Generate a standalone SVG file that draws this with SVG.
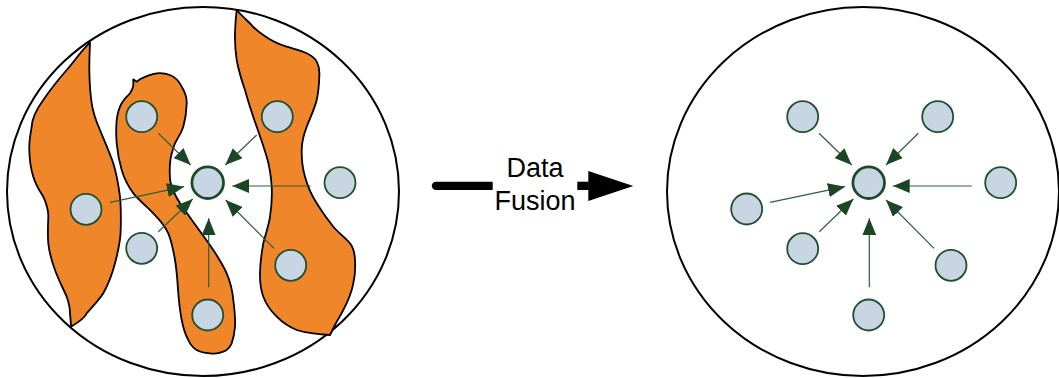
<svg xmlns="http://www.w3.org/2000/svg" width="1059" height="378" viewBox="0 0 1059 378">
<style>
.frame{fill:#ffffff;stroke:#000000;stroke-width:2}
.blob{fill:#f0862a;stroke:#000000;stroke-width:1.8;stroke-linejoin:round}
.node{fill:#c8d5e3;stroke:#22502e;stroke-width:1.8}
.hub{fill:#c8d5e3;stroke:#1e4a2a;stroke-width:2.8}
.edge{stroke:#2f5e3c;stroke-width:1.2;fill:none;marker-end:url(#ah)}
.lbl{font-family:"Liberation Sans",Arial,sans-serif;font-size:27px;fill:#000000;text-anchor:middle}
</style>
<defs>
<marker id="ah" viewBox="0 0 17 14" refX="17" refY="7" markerWidth="17" markerHeight="14" markerUnits="userSpaceOnUse" orient="auto">
<path d="M0,0 L17,7 L0,14 Z" fill="#1a4626"/>
</marker>
</defs>

<g id="before">
<ellipse class="frame" cx="203" cy="191.5" rx="196" ry="184.5"/>
<path id="regionA" class="blob" d="M90,42.7 C80,52 74,62 66.7,70 C58,80 50,90 43.3,100 C36,110 32,118 31.7,126.7 C30,136 29,143 29.3,150 C29.5,160 30.5,168 33.3,176.7 C36,186 40,191 43.3,196.7 C47,205 48.5,210 48.3,216.7 C48,226 47.5,234 48.3,243.3 C49.5,254 52,262 55,270 C58.5,280 63,288 66.7,296.7 C69,303 70,308 70,313.3 C70.5,318 70.8,322 71,326.7 C79,322 85,318 86.7,313.3 C93,306 99,300 103.3,293.3 C109,283 112.5,273 115,263.3 C118,252 120.5,242 120.7,230 C121,218 121,207 120,196.7 C118.5,185 116.5,174 113.3,163.3 C109,151 104,140 100,130 C96,121 93,112 91.7,103.3 C90,92 89.5,81 89.3,70 C89.3,60 89.6,51 90,42.7 Z"/>
<path id="regionB" class="blob" d="M140,79.3 C146,76 151,74 156.7,73.3 C162,72.7 166,73.5 170,75 C175,77 179,81 181.7,86.7 C185,92 187,97 186.7,103.3 C186.5,111 185.5,119 183.3,126.7 C181,134 177.5,138 175,143.3 C172.5,150 170.5,156 170,163.3 C169.5,170 169.5,177 170.7,183.3 C172.5,191 176,197 180,203.3 C185.5,211 191,219 196.7,226.7 C202,234 208,242 213.3,250 C218.5,258 223,265 226.7,273.3 C230,281 232.5,291 233.3,300 C234.5,309 235.5,318 235,326.7 C234.5,333 233.5,338 231.7,343.3 C229.5,348 226.5,350.5 223.3,351.7 C219,353.5 214,354 210,353.3 C205,353 200,352 196.7,350 C192.5,347.5 190,344 188.3,340 C185,334 183,327 181.7,320 C180,311 179,302 178.3,293.3 C177.5,282 176.8,270 175,260 C173.5,251 171.5,241 168.3,233.3 C164.5,225 159,219 153.3,213.3 C146,206 139,200 133.3,193.3 C128,186 124,178 121.7,170 C119,161 117.5,152 116.7,143.3 C116,135 116,127 116.7,120 C117.5,113 119,108 121.7,103.3 C124,99 127,96 130,93.3 C132,90 133.2,88 133.3,85 L133.3,79.3 L136.7,81.7 Z"/>
<path id="regionC" class="blob" d="M236.7,10 C241,15 245.5,19 250,23.3 C254,28 258.5,32 263.3,35 C270,40 278,44 286.7,46.7 C294,49 301,50.5 306.7,53.3 C311.5,55.5 314.8,58 316.7,61.7 C319,66 319.8,71 319.3,76.7 C319,85 318.5,92 316.7,100 C314.5,109 310,118 306.7,126.7 C303.5,135 301.8,142 301.7,150 C301.5,159 302.5,168 305,176.7 C307.5,186 311.5,195 316.7,203.3 C322,212 327.5,219.5 333.3,226.7 C339,233.5 345.5,237.5 350,243.3 C353.5,248 354.8,254 355,260 C355.5,268 355,276 353.3,283.3 C351.5,293 347.5,302 343.3,310 C340.5,315.5 337.5,320 335,325 C333,329 331.5,332 330,335 C324,334.5 319,334 313.3,333.3 C307.5,332.8 302,331.8 296.7,330 C289,327 282.5,322.5 276.7,316.7 C270.5,310.5 266,304 263.3,296.7 C260.5,289 259.8,281 260,273.3 C260.2,263 261.5,253 263.3,243.3 C265.5,234 269,225 270,216.7 C271.5,207 272.2,196 271.7,186.7 C271,176 269.5,166 266.7,156.7 C263.5,146 260,136 256.7,126.7 C252.5,115 248.5,103 245,90 C241.5,80 238.5,70 236.7,60 C235.3,51 234.8,42 235,33.3 C235.2,25 235.8,17 236.7,10 Z"/>
</g>

<g id="after">
<ellipse class="frame" cx="863" cy="191.5" rx="196" ry="184.5"/>
</g>

<g id="connectors">
<line class="edge" x1="158.3" y1="133.3" x2="190.7" y2="165"/>
<line class="edge" x1="256.7" y1="135" x2="225.3" y2="165"/>
<line class="edge" x1="310.7" y1="186" x2="232.3" y2="186"/>
<line class="edge" x1="110" y1="202.3" x2="184" y2="186.7"/>
<line class="edge" x1="158.3" y1="231.7" x2="192.7" y2="199"/>
<line class="edge" x1="274" y1="248.3" x2="225.7" y2="200"/>
<line class="edge" x1="208.7" y1="287.3" x2="208.7" y2="218.3"/>
<line class="edge" x1="819" y1="133.3" x2="851.7" y2="165"/>
<line class="edge" x1="918.3" y1="133.3" x2="886" y2="165"/>
<line class="edge" x1="971.7" y1="186" x2="892.7" y2="186"/>
<line class="edge" x1="770" y1="202.3" x2="845" y2="186.7"/>
<line class="edge" x1="819.3" y1="231.7" x2="853.3" y2="199"/>
<line class="edge" x1="934" y1="248.3" x2="886" y2="200"/>
<line class="edge" x1="869.3" y1="287.3" x2="869.3" y2="218.3"/>
</g>

<g id="nodes-before">
<circle id="n1-hub" class="hub" cx="207.7" cy="182.7" r="15.8"/>
<circle id="n1-tl" class="node" cx="141.7" cy="116.7" r="15.5"/>
<circle id="n1-tr" class="node" cx="277.3" cy="116.7" r="15.5"/>
<circle id="n1-r" class="node" cx="340" cy="182.7" r="15.5"/>
<circle id="n1-l" class="node" cx="86" cy="209.3" r="15.5"/>
<circle id="n1-ll" class="node" cx="141.7" cy="248.3" r="15.5"/>
<circle id="n1-lr" class="node" cx="290.7" cy="265.3" r="15.5"/>
<circle id="n1-b" class="node" cx="207.7" cy="315" r="15.5"/>
</g>

<g id="nodes-after">
<circle id="n2-hub" class="hub" cx="868.7" cy="182.7" r="15.8"/>
<circle id="n2-tl" class="node" cx="802.7" cy="116.7" r="15.5"/>
<circle id="n2-tr" class="node" cx="937.7" cy="116.7" r="15.5"/>
<circle id="n2-r" class="node" cx="1000.7" cy="182.7" r="15.5"/>
<circle id="n2-l" class="node" cx="746.7" cy="209" r="15.5"/>
<circle id="n2-ll" class="node" cx="802.7" cy="248.7" r="15.5"/>
<circle id="n2-lr" class="node" cx="951" cy="265.3" r="15.5"/>
<circle id="n2-b" class="node" cx="868.7" cy="315" r="15.5"/>
</g>

<g id="fusion-arrow">
<path d="M492.7,181.7 H435.9 A4.15,4.15 0 0 0 435.9,190 H492.7 Z" fill="#000000"/>
<rect x="577.3" y="181.7" width="11.5" height="8.3" fill="#000000"/>
<path d="M588.3,171 L633.3,186 L588.3,201 Z" fill="#000000"/>
<text class="lbl" x="535" y="176.7">Data</text>
<text class="lbl" x="535" y="210">Fusion</text>
</g>
</svg>
